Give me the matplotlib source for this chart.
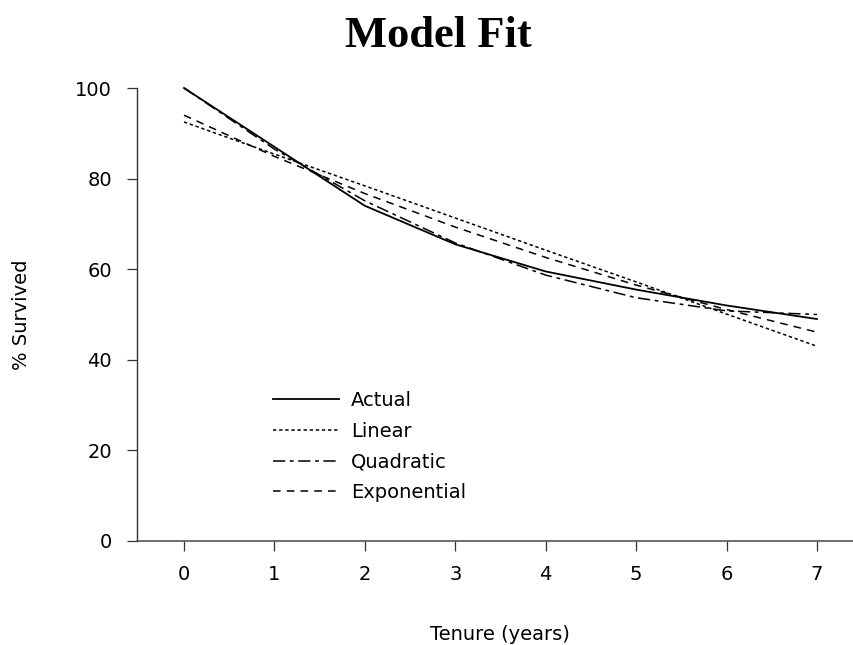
import matplotlib
matplotlib.use("Agg")
import matplotlib.pyplot as plt

years = [0, 1, 2, 3, 4, 5, 6, 7]
actual = [100, 87, 74, 65.5, 59.5, 55.5, 52, 49]
linear = [92.5, 85.4, 78.4, 71.3, 64.2, 57.2, 50.1, 43.0]
quadratic = [100, 86.5, 75.1, 65.8, 58.7, 53.7, 50.8, 50.0]
exponential = [94, 84.9, 76.7, 69.3, 62.6, 56.5, 51.1, 46.1]
labels = ["Actual", "Linear", "Quadratic", "Exponential"]
xticks = [0, 1, 2, 3, 4, 5, 6, 7]
yticks = [0, 20, 40, 60, 80, 100]

plt.rcParams['font.family'] = ['DejaVu Sans']
W, H = 854, 645
fig = plt.figure(figsize=(W / 100, H / 100), dpi=100)
ax = fig.add_axes([137 / W, 1 - 541 / H, (854 - 137) / W, (541 - 88) / H])

lw = 1.1
ax.plot(years, actual, color='black', lw=1.3, linestyle='-', label=labels[0], clip_on=False)
ax.plot(years, linear, color='black', lw=lw, linestyle=(0, (2.2, 1.8)), label=labels[1], clip_on=False)
ax.plot(years, quadratic, color='black', lw=lw, linestyle=(0, (8, 3, 2.5, 3)), label=labels[2], clip_on=False)
ax.plot(years, exponential, color='black', lw=lw, linestyle=(0, (5, 4)), label=labels[3], clip_on=False)

ax.set_xlim(-0.52, 7.41)
ax.set_ylim(0, 100)
ax.set_xticks(xticks)
ax.set_yticks(yticks)
for s in ['top', 'right']:
    ax.spines[s].set_visible(False)
ax.spines['left'].set_color('#333333')
ax.spines['bottom'].set_color('#555555')
ax.spines['left'].set_linewidth(1.0)
ax.spines['bottom'].set_linewidth(1.2)
ax.tick_params(axis='both', direction='out', length=7, width=0.9, color='#333333',
               labelsize=14, pad=10)
ax.tick_params(axis='y', pad=11)

fig.text(22 / W, 1 - 315 / H, "% Survived", rotation=90, ha='center', va='center', fontsize=14)
fig.text(500 / W, 1 - 640 / H, "Tenure (years)", ha='center', va='baseline', fontsize=14)
fig.text(438 / W, 1 - 36 / H, "Model Fit", ha='center', va='center', fontsize=32,
         fontweight='bold', family=['Liberation Serif'])

leg = ax.legend(loc='upper left', bbox_to_anchor=(273 / W, 1 - 391 / H),
                bbox_transform=fig.transFigure, frameon=False, fontsize=14,
                handlelength=3.4, handletextpad=0.6, labelspacing=0.6,
                borderpad=0, borderaxespad=0)

fig.savefig("out.png", dpi=100)
